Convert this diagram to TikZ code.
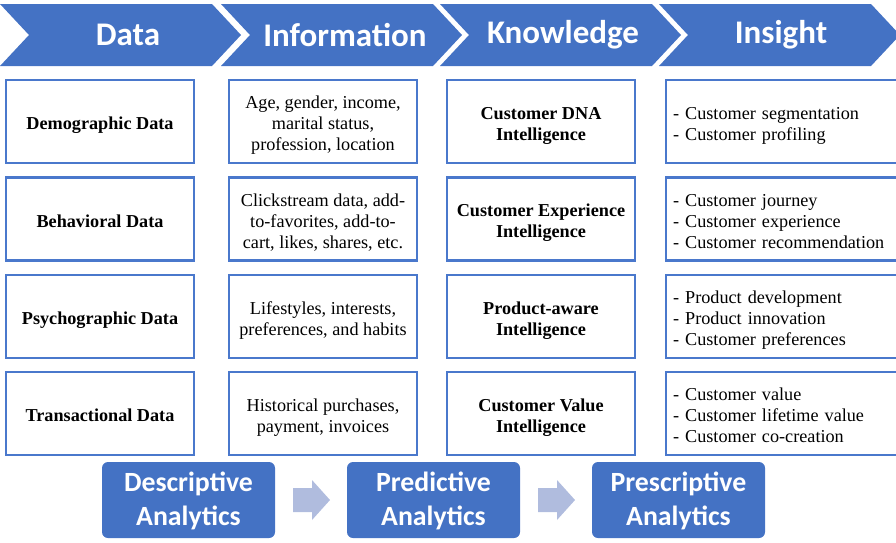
\documentclass[tikz,border=0pt]{standalone}
\usepackage{fontspec}
\setmainfont{Liberation Serif}
\newfontfamily\hfont{Carlito}
\usetikzlibrary{calc}
\definecolor{cblue}{HTML}{4472C4}
\definecolor{bblue}{HTML}{4A78CC}
\definecolor{arrowc}{HTML}{B0BCDE}
\newcommand\mycellc[1]{\raisebox{-4pt}[\height][\depth]{\begin{tabular}{@{}c@{}}#1\end{tabular}}}
\newcommand\mycelll[1]{\raisebox{-4pt}[\height][\depth]{\begin{tabular}{@{}l@{}}#1\end{tabular}}}
\newcommand\myanc[1]{\raisebox{-2pt}[\height][\depth]{\begin{tabular}{@{}c@{}}#1\end{tabular}}}
\tikzset{
  chev/.style={fill=cblue, draw=none},
  chevtext/.style={text=white, font=\hfont\bfseries\fontsize{33}{38}\selectfont, inner sep=0},
  cell/.style={draw=bblue, line width=2.6pt, minimum width=188pt, minimum height=83pt, inner sep=0, font=\fontsize{18.2}{21}\selectfont},
  boldcell/.style={cell, font=\bfseries\fontsize{18.2}{21}\selectfont},
  listcell/.style={draw=bblue, line width=2.6pt, minimum height=83pt, text width=226pt, inner xsep=7pt, inner ysep=0, align=left, font=\fontsize{18.2}{21}\selectfont},
  anbox/.style={fill=cblue, rounded corners=6pt, minimum width=173pt, minimum height=76pt, inner sep=0, text=white, font=\hfont\bfseries\fontsize{27.8}{34}\selectfont},
  blockarrow/.style={fill=arrowc, draw=none}
}
\begin{document}
\begin{tikzpicture}[x=1pt, y=-1pt]
\useasboundingbox (0,0) rectangle (896,542);
\clip (0,0) rectangle (896,542);
% chevrons
\foreach \L in {0, 221, 440, 659}{
  \fill[chev] (\L,4) -- ++(212,0) -- ++(29,31) -- ++(-29,31) -- (\L,66) -- ++(29,-31) -- cycle;
}
\node[chevtext] (h1) at (128,35) {Data};
\node[chevtext] (h2) at (345,35) {Information};
\node[chevtext] (h3) at (563,35) {Knowledge};
\node[chevtext] (h4) at (781,35) {Insight};
% column 1
\node[boldcell] (a1) at (100,121.5) {\mycellc{Demographic Data}};
\node[boldcell] (a2) at (100,219) {\mycellc{Behavioral Data}};
\node[boldcell] (a3) at (100,316.5) {\mycellc{Psychographic Data}};
\node[boldcell] (a4) at (100,413.5) {\mycellc{Transactional Data}};
% column 2
\node[cell] (b1) at (323,121.5) {\mycellc{Age, gender, income,\\ marital status,\\ profession, location}};
\node[cell] (b2) at (323,219) {\mycellc{Clickstream data, add-\\to-favorites, add-to-\\cart, likes, shares, etc.}};
\node[cell] (b3) at (323,316.5) {\mycellc{Lifestyles, interests,\\ preferences, and habits}};
\node[cell] (b4) at (323,413.5) {\mycellc{Historical purchases,\\ payment, invoices}};
% column 3
\node[boldcell] (c1) at (541,121.5) {\mycellc{Customer DNA\\ Intelligence}};
\node[boldcell] (c2) at (541,219) {\mycellc{Customer Experience\\ Intelligence}};
\node[boldcell] (c3) at (541,316.5) {\mycellc{Product-aware\\ Intelligence}};
\node[boldcell] (c4) at (541,413.5) {\mycellc{Customer Value\\ Intelligence}};
% column 4
\node[listcell] (d1) at (786,121.5) {\mycelll{- Customer segmentation\\ - Customer profiling}};
\node[listcell] (d2) at (786,219) {\mycelll{- Customer journey\\ - Customer experience\\ - Customer recommendation}};
\node[listcell] (d3) at (786,316.5) {\mycelll{- Product development\\ - Product innovation\\ - Customer preferences}};
\node[listcell] (d4) at (786,413.5) {\mycelll{- Customer value\\ - Customer lifetime value\\ - Customer co-creation}};
% analytics
\node[anbox] (e1) at (188.5,500) {\myanc{Descriptive\\ Analytics}};
\node[anbox] (e2) at (433.5,500) {\myanc{Predictive\\ Analytics}};
\node[anbox] (e3) at (678.5,500) {\myanc{Prescriptive\\ Analytics}};
\coordinate (m1) at ($(e1.east)!0.5!(e2.west)$);
\coordinate (m2) at ($(e2.east)!0.5!(e3.west)$);
\foreach \m in {m1,m2}{
  \fill[blockarrow] ($(\m)+(-18,-12)$) -- ++(19,0) -- ++(0,-8) -- ++(18,20) -- ++(-18,20) -- ++(0,-8) -- ++(-19,0) -- cycle;
}
\end{tikzpicture}
\end{document}
